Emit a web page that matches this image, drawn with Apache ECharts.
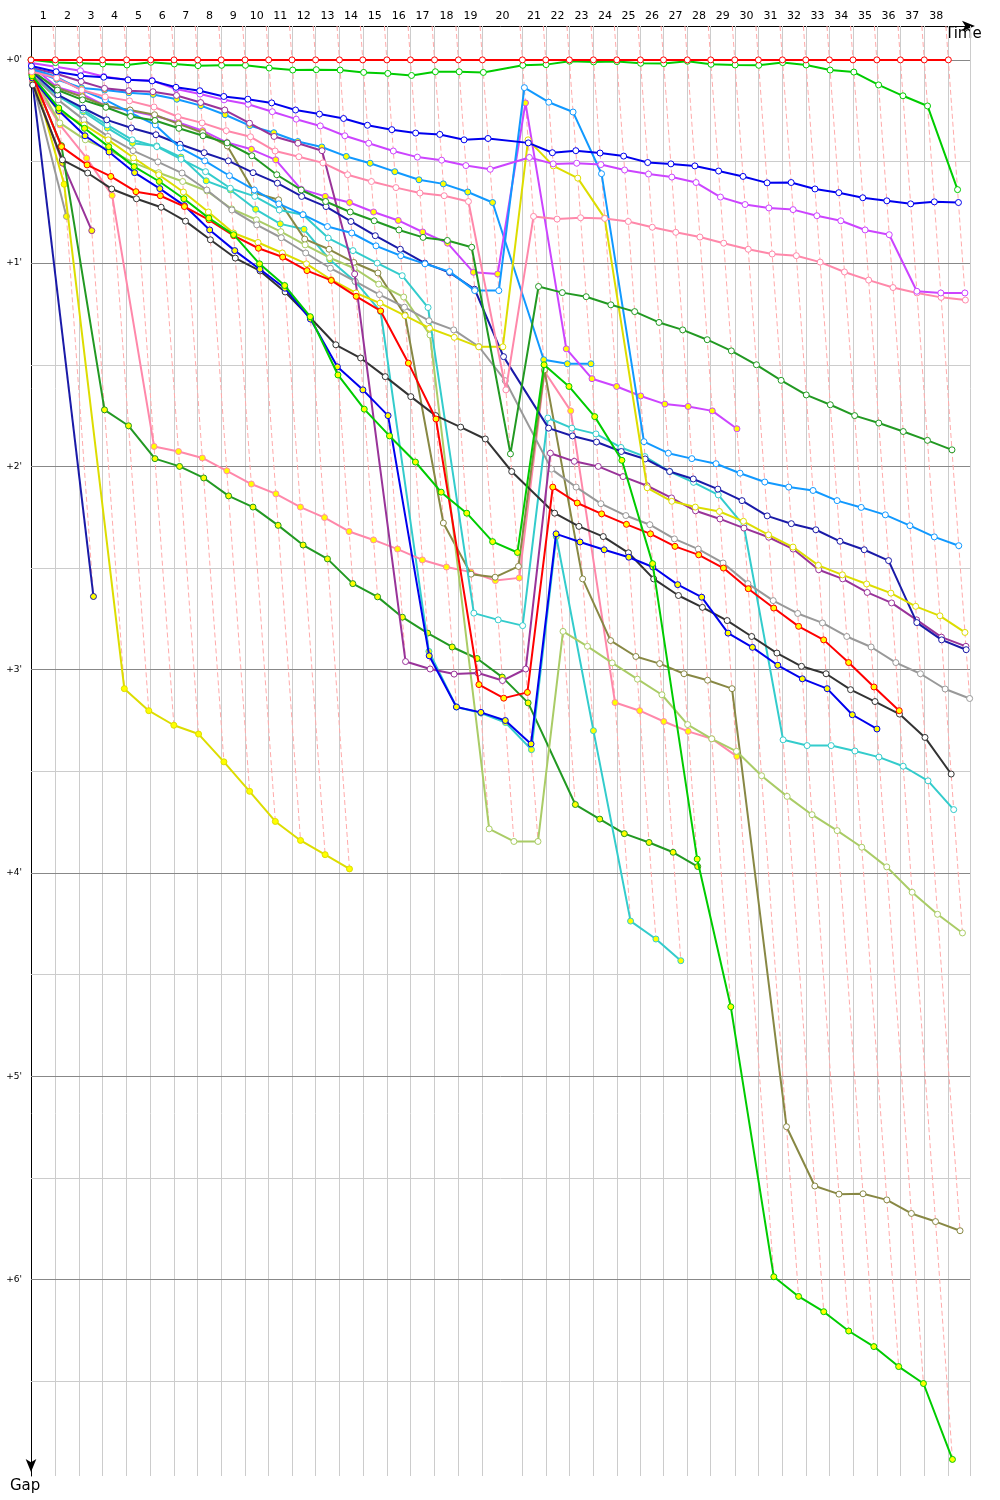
<!DOCTYPE html>
<html><head><meta charset="utf-8">
<script src="https://cdn.jsdelivr.net/npm/echarts@6/dist/echarts.min.js"></script>
<style>html,body{margin:0;padding:0;background:#fff}#c{width:1000px;height:1500px}</style>
</head><body><div id="c"></div>
<script>
// Leader's cumulative race time (s) at the end of each lap (index 0 = start)
const leaderLapTimes = [0,101,202,297,397,497,594,692,790,889,987,1084,1182,1281,1378,1478,1576,1676,1775,1875,2041,2138,2236,2336,2433,2531,2627,2726,2823,2923,3021,3121,3218,3316,3414,3513,3611,3710,3810];
const lapNumbers = [1,2,3,4,5,6,7,8,9,10,11,12,13,14,15,16,17,18,19,20,21,22,23,24,25,26,27,28,29,30,31,32,33,34,35,36,37,38];
const gapTickValues = [0,60,120,180,240,300,360];

// Gap to the leader (s) at the end of each lap (index 0 = start)
const gapRed1 = [0,0,0,0,0,0,0,0,0,0,0,0,0,0,0,0,0,0,0,0,0,0,0,0,0,0,0,0,0,0,0,0,0,0,0,0,0,0,0];
const gapGreen1 = [0,0.8,1.0,1.2,1.5,0.7,1.2,1.7,1.6,1.6,2.4,3.0,2.9,3.0,3.7,4.0,4.6,3.5,3.5,3.7,1.6,1.4,0.4,0.6,0.5,1.0,1.1,0.4,1.3,1.5,1.6,0.8,1.5,3.0,3.6,7.4,10.6,13.6,38.3];
const gapBlue1 = [1.8,3.5,4.7,5.1,5.9,6.2,8.1,9.1,10.8,11.6,12.7,14.8,16.0,17.3,19.3,20.6,21.6,22.0,23.6,23.2,24.5,27.4,26.8,27.5,28.4,30.3,30.7,31.3,32.8,34.4,36.3,36.2,38.1,39.2,40.7,41.6,42.5,41.9,42.1];
const gapViolet1 = [0.9,2.0,3.2,4.9,5.9,6.1,8.6,10.1,11.8,13.1,15.3,17.5,19.5,22.4,24.6,26.9,28.7,29.6,31.2,32.3,28.8,30.7,30.5,30.9,32.5,33.7,34.6,36.2,40.5,42.7,43.7,44.2,46.0,47.5,50.2,51.6,68.3,68.8,68.8];
const gapPink1 = [3.5,5.3,8.9,10.9,12.1,13.9,16.8,18.6,20.9,22.7,26.9,28.6,30.4,33.9,35.9,37.7,39.3,40.1,41.8,97.4,46.2,47.0,46.6,46.8,47.7,49.4,50.9,52.3,54.1,55.9,57.3,57.8,59.7,62.6,65.0,67.2,68.8,70.1,70.9];
const gapForest1 = [3.0,8.9,11.8,14.0,16.7,17.9,20.2,22.4,24.5,28.3,33.9,38.4,41.8,44.9,47.5,50.2,52.4,53.3,55.3,116.3,66.9,68.7,69.9,72.3,74.3,77.5,79.7,82.6,85.9,90.0,94.6,98.9,101.8,105.0,107.2,109.7,112.3,115.1];
const gapSky1 = [2.7,5.0,8.9,11.8,15.6,19.2,26.0,29.8,34.2,38.4,42.5,45.7,49.2,51.1,54.9,57.8,60.2,62.5,68.1,68.1,8.2,12.5,15.4,33.6,112.7,116.1,117.7,119.2,122.0,124.6,126.1,127.1,130.1,132.1,134.3,137.5,140.8,143.4];
const gapYellow1 = [5.3,15.3,19.2,23.6,28.9,33.9,39.0,44.9,51.1,53.9,57.0,60.2,64.9,68.8,71.8,75.5,79.2,81.9,84.7,84.7,23.6,31.3,34.9,46.7,126.3,130.3,132.0,133.3,136.2,140.2,143.8,149.2,152.0,154.7,157.4,161.3,164.1,169.0];
const gapNavy1 = [3.5,10.3,14.2,17.7,20.1,22.1,24.9,27.4,29.8,33.3,36.4,40.3,43.3,47.7,51.9,55.9,60.0,62.8,67.7,87.6,108.7,111.0,112.8,115.6,117.8,121.5,123.7,126.7,130.1,134.6,136.9,138.7,142.1,144.6,147.8,166.1,171.2,174.1];
const gapPurple1 = [2.4,4.1,6.4,8.4,9.1,9.4,10.5,12.6,14.8,18.7,22.6,24.6,26.8,63.2,177.6,179.8,181.3,181.0,183.2,179.8,116.1,118.5,120.0,123.0,125.7,129.3,133.1,135.5,138.2,140.9,144.4,150.5,153.2,157.2,160.3,165.3,170.4,173.1];
const gapGray1 = [4.4,11.8,17.7,22.6,26.8,30.1,33.4,38.4,44.3,48.7,52.5,57.0,61.5,65.4,69.3,73.0,77.0,79.7,84.6,94.7,120.8,126.1,131.0,134.5,137.2,141.4,144.4,148.5,154.6,159.6,163.4,166.2,170.2,173.3,177.9,181.2,185.7,188.5];
const gapBlack1 = [7.4,29.5,33.4,38.1,41.0,43.5,47.6,53.1,58.5,62.3,68.5,76.1,84.1,88.0,93.5,99.4,105.0,108.4,111.9,121.5,133.8,137.7,140.7,145.5,153.2,158.1,161.6,165.5,170.2,175.1,179.0,181.2,185.9,189.4,193.1,200.0,210.8];
const gapCyan1 = [4.7,10.3,14.8,19.2,23.6,25.6,29.3,33.0,37.9,40.3,44.3,45.7,52.6,56.3,60.0,63.7,73.1,163.3,165.3,167.0,105.7,108.7,110.4,114.4,117.1,121.5,124.7,128.4,137.5,200.7,202.4,202.4,204.0,205.8,208.5,212.8,221.3];
const gapLightOlive1 = [4.1,18.6,23.6,26.6,30.4,33.3,35.9,38.7,44.0,47.2,50.7,54.6,58.4,61.5,66.2,70.0,81.2,227.0,230.7,230.7,168.7,173.1,178.0,182.8,187.4,196.2,200.4,204.1,211.3,217.4,222.8,227.5,232.4,238.2,245.7,252.2,257.7];
const gapOlive1 = [3.5,8.3,10.9,13.6,14.8,16.2,18.9,21.5,25.4,39.2,41.3,52.9,55.9,59.8,62.9,75.3,136.7,151.8,152.7,149.5,91.5,153.2,171.4,176.1,178.2,181.2,183.1,185.6,314.9,332.4,334.8,334.7,336.5,340.5,342.9,345.6];
const gapRed2 = [4.1,25.6,31.0,34.4,38.9,40.1,43.3,47.2,51.9,55.6,58.2,62.2,65.1,69.8,74.1,89.5,106.0,184.4,188.4,186.7,126.1,130.8,134.0,137.1,139.9,143.6,146.1,150.0,156.1,161.8,167.2,171.2,177.9,185.1,192.1];
const gapGreen2 = [4.7,14.2,20.2,25.6,31.5,35.9,41.0,46.7,51.6,60.2,66.6,75.8,93.0,103.1,111.0,118.7,127.6,133.8,142.2,145.4,90.0,96.4,105.3,118.2,148.7,235.9,279.5,359.2,365.0,369.5,375.2,379.8,385.7,390.7,413.1];
const gapBlue2 = [5.3,15.0,22.4,27.2,33.3,38.0,43.0,50.2,56.3,61.8,67.4,76.5,90.6,97.4,105.0,175.9,191.0,192.6,195.0,201.9,139.9,142.3,144.6,146.8,149.7,154.9,158.6,169.2,173.4,178.7,182.7,185.6,193.3,197.5];
const gapViolet2 = [1.8,8.1,10.1,13.6,15.0,16.5,18.5,20.9,24.4,26.4,29.5,38.2,40.3,42.1,44.9,47.4,50.8,54.1,62.7,63.2,12.7,85.3,94.1,96.4,99.2,101.6,102.3,103.6,108.9];
const gapPink2 = [5.9,19.2,29.0,40.0,114.1,115.6,117.5,121.3,125.2,128.1,132.0,135.1,139.2,141.7,144.4,147.6,149.7,151.2,153.7,152.9,92.0,103.6,189.7,192.1,195.3,198.2,200.4,205.6];
const gapForest2 = [4.4,25.3,103.3,108.0,117.7,120.0,123.4,128.7,132.0,137.4,143.2,147.3,154.6,158.5,164.5,169.2,173.3,176.7,182.2,189.8,219.8,224.1,228.4,231.0,233.9,238.1];
const gapSky2 = [3.0,5.7,8.3,8.9,9.7,10.2,11.6,13.5,16.2,19.4,21.5,24.1,25.7,28.5,30.5,33.0,35.4,36.6,39.0,42.1,88.5,89.7,89.7];
const gapYellow2 = [3.0,36.7,185.6,192.1,196.4,199.0,207.2,215.9,224.8,230.4,234.6,238.8];
const gapNavy2 = [7.4,158.4];
const gapPurple2 = [5.9,30.5,50.4];
const gapGray2 = [6.5,46.2];
const gapCyan2 = [5.0,10.6,15.3,20.1,24.6,25.4,28.7,35.7,38.4,44.1,48.4,50.0,59.0,65.4,74.3,174.6,191.0,192.8,195.6,203.6,140.7,198.0,254.2,259.5,265.9];

// styles (drawing order: first = bottom)
const drivers = [
  [gapNavy2,'#1a1aa8','#ffff00'],[gapGray2,'#999999','#ffff00'],[gapPurple2,'#993399','#ffff00'],
  [gapYellow2,'#dddd00','#ffff00'],[gapForest2,'#229922','#ffff00'],[gapCyan2,'#33cccc','#ffff00'],
  [gapPink2,'#ff88aa','#ffff00'],[gapSky2,'#1199ff','#ffff00'],[gapViolet2,'#cc44ff','#ffff00'],
  [gapOlive1,'#888844','#ffffff'],[gapLightOlive1,'#aacc66','#ffffff'],[gapCyan1,'#33cccc','#ffffff'],
  [gapBlack1,'#333333','#ffffff'],[gapGray1,'#999999','#ffffff'],[gapPurple1,'#993399','#ffffff'],
  [gapNavy1,'#1a1aa8','#ffffff'],[gapYellow1,'#dddd00','#ffffff'],[gapBlue2,'#0000ee','#ffff00'],
  [gapRed2,'#ff0000','#ffff00'],[gapGreen2,'#00cc00','#ffff00'],[gapSky1,'#1199ff','#ffffff'],
  [gapForest1,'#229922','#ffffff'],[gapPink1,'#ff88aa','#ffffff'],[gapViolet1,'#cc44ff','#ffffff'],
  [gapBlue1,'#0000ee','#ffffff'],[gapGreen1,'#00cc00','#ffffff'],[gapRed1,'#ff0000','#ffffff']
];

const X_MAX = 3900, Y_MIN = -10, Y_MAX = 418;
const series = [];

// grid lines
const minorH = [], majorH = [];
for (let v = 0; v <= Y_MAX; v += 30) { (v % 60 === 0 ? majorH : minorH).push(v); }
const vLines = leaderLapTimes.slice(1).concat([X_MAX]);
function gridSeries(list, color, horiz) {
  return {type:'lines', coordinateSystem:'cartesian2d', silent:true, z:1, animation:false,
    lineStyle:{color:color, width:1, opacity:1},
    data: list.map(v => ({coords: horiz ? [[0,v],[X_MAX,v]] : [[v,Y_MIN],[v,Y_MAX]]}))};
}
series.push(gridSeries(vLines,'#cccccc',false));
series.push(gridSeries(minorH,'#cccccc',true));
series.push(gridSeries(majorH,'#888888',true));

// dashed lap lines (same lap for all cars: time = leader time + gap)
const lapLineData = lapNumbers.map(n => {
  let mg = 0;
  drivers.forEach(d => { if (d[0].length > n) mg = Math.max(mg, d[0][n]); });
  const t = leaderLapTimes[n];
  return {coords: [[t + Y_MIN, Y_MIN], [t + mg, mg]]};
});
series.push({type:'lines', coordinateSystem:'cartesian2d', silent:true, z:2, animation:false,
  lineStyle:{color:'#ffaaaa', width:1, opacity:1, type:[5,3]}, data: lapLineData});

drivers.forEach((d, i) => {
  series.push({
    type:'line', silent:true, animation:false, clip:false, z:3 + i,
    data: d[0].map((g, lap) => [leaderLapTimes[lap] + g, g]),
    symbol:'circle', symbolSize:6, showSymbol:true, showAllSymbol:true,
    lineStyle:{color:d[1], width:2},
    itemStyle:{color:d[2], borderColor:d[1], borderWidth:1}
  });
});

const lapMids = lapNumbers.map(n => (leaderLapTimes[n-1] + leaderLapTimes[n]) / 2);

const chart = echarts.init(document.getElementById('c'), null, {renderer:'canvas'});
chart.setOption({
  animation:false,
  backgroundColor:'#ffffff',
  grid:{left:31, right:30, top:26, bottom:24},
  xAxis:{type:'value', position:'top', min:0, max:X_MAX,
    axisLine:{show:true, onZero:false, lineStyle:{color:'#000', width:1}, symbol:['none','arrow'], symbolSize:[8,13], symbolOffset:[0,5]},
    axisTick:{show:false}, splitLine:{show:false},
    axisLabel:{customValues: lapMids, margin:4, color:'#000', fontSize:11, fontFamily:'DejaVu Sans',
      formatter: v => { const k = lapMids.findIndex(m => Math.abs(m - v) < 0.01); return k >= 0 ? String(lapNumbers[k]) : ''; }}
  },
  yAxis:{type:'value', inverse:true, min:Y_MIN, max:Y_MAX,
    axisLine:{show:true, onZero:false, lineStyle:{color:'#000', width:1}, symbol:['arrow','none'], symbolSize:[8,13], symbolOffset:[4,0]},
    axisTick:{show:false}, splitLine:{show:false},
    axisLabel:{customValues: gapTickValues, margin:9, color:'#000', fontSize:9, fontFamily:'DejaVu Sans',
      formatter: v => "+" + (v/60) + "'"}
  },
  graphic:[
    {type:'text', left:945, top:27, style:{text:'Time', fontSize:15, fontFamily:'DejaVu Sans', fill:'#000'}},
    {type:'text', left:10, top:1479, style:{text:'Gap', fontSize:15, fontFamily:'DejaVu Sans', fill:'#000'}}
  ],
  series: series
});
</script>
</body></html>
